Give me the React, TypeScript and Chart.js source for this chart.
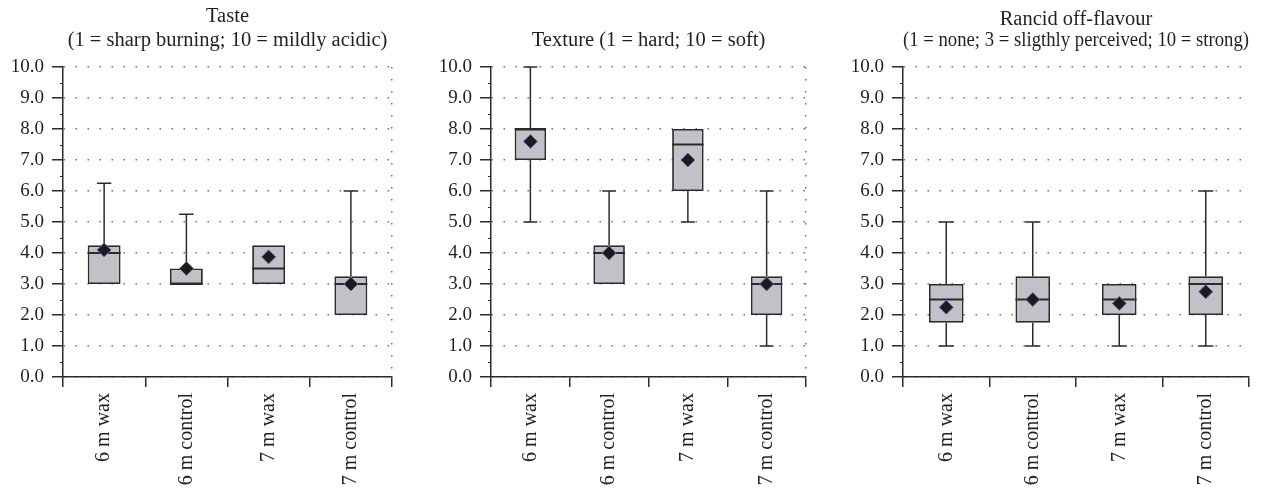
import React, { useEffect, useRef } from 'react';
import { Chart, registerables } from 'chart.js';

Chart.register(...registerables);

// ---------- data ----------
const categories = ['6 m wax', '6 m control', '7 m wax', '7 m control'];

const tasteTitle = ['Taste', '(1 = sharp burning; 10 = mildly acidic)'];
const tasteMin = [3, 3, 3, 2];
const tasteQ1 = [3, 3, 3, 2];
const tasteMedian = [4, 3, 3.5, 3];
const tasteQ3 = [4.25, 3.5, 4.25, 3.25];
const tasteMax = [6.25, 5.25, 4.25, 6];
const tasteMean = [4.1, 3.5, 3.875, 3];

const textureTitle = ['', 'Texture (1 = hard; 10 = soft)'];
const textureMin = [5, 3, 5, 1];
const textureQ1 = [7, 3, 6, 2];
const textureMedian = [8, 4, 7.5, 3];
const textureQ3 = [8, 4.25, 8, 3.25];
const textureMax = [10, 6, 8, 6];
const textureMean = [7.6, 4, 7, 3];

const rancidTitle = ['Rancid off-flavour', '(1 = none; 3 = sligthly perceived; 10 = strong)'];
const rancidMin = [1, 1, 1, 1];
const rancidQ1 = [1.75, 1.75, 2, 2];
const rancidMedian = [2.5, 2.5, 2.5, 3];
const rancidQ3 = [3, 3.25, 3, 3.25];
const rancidMax = [5, 5, 3, 6];
const rancidMean = [2.25, 2.5, 2.375, 2.75];

const yMin = 0;
const yMax = 10;
const yStep = 1;

// ---------- styling ----------
const FONT = 'Liberation Serif, Times New Roman, serif';
const TEXT = '#231f20';
const DARK = '#2b2b2b';
const BOX_FILL = '#c1c2c7';
const DOT = '#6f6f6f';

type Panel = {
  title: string[];
  min: number[];
  q1: number[];
  median: number[];
  q3: number[];
  max: number[];
  mean: number[];
  left: number;
  width: number;
  axisWidth: number;
  padRight: number;
  rightLine: boolean;
  titleLine: number;
  titleTop: number;
  titleBottom: number;
};

const panels: Panel[] = [
  { title: tasteTitle, min: tasteMin, q1: tasteQ1, median: tasteMedian, q3: tasteQ3, max: tasteMax, mean: tasteMean,
    left: 0, width: 400, axisWidth: 63, padRight: 8, rightLine: true, titleLine: 24, titleTop: 5, titleBottom: 14 },
  { title: textureTitle, min: textureMin, q1: textureQ1, median: textureMedian, q3: textureQ3, max: textureMax, mean: textureMean,
    left: 420, width: 395, axisWidth: 71, padRight: 9, rightLine: true, titleLine: 24, titleTop: 5, titleBottom: 14 },
  { title: rancidTitle, min: rancidMin, q1: rancidQ1, median: rancidMedian, q3: rancidQ3, max: rancidMax, mean: rancidMean,
    left: 830, width: 449, axisWidth: 73, padRight: 30, rightLine: false, titleLine: 21, titleTop: 9, titleBottom: 16 },
];

function makeBoxPlugin(p: Panel) {
  return {
    id: 'boxWhiskers',
    beforeDatasetsDraw(chart: any) {
      const ctx = chart.ctx;
      const y = chart.scales.y;
      const meta = chart.getDatasetMeta(0);
      ctx.save();
      ctx.strokeStyle = DARK;
      ctx.lineWidth = 1.5;
      meta.data.forEach((bar: any, i: number) => {
        const cx = bar.x;
        const half = bar.width * 0.22;
        const pMax = y.getPixelForValue(p.max[i]);
        const pMin = y.getPixelForValue(p.min[i]);
        const pQ1 = y.getPixelForValue(p.q1[i]);
        const pQ3 = y.getPixelForValue(p.q3[i]);
        ctx.beginPath();
        if (p.max[i] > p.q3[i]) {
          ctx.moveTo(cx, pQ3);
          ctx.lineTo(cx, pMax);
          ctx.moveTo(cx - half, pMax);
          ctx.lineTo(cx + half, pMax);
        }
        if (p.min[i] < p.q1[i]) {
          ctx.moveTo(cx, pQ1);
          ctx.lineTo(cx, pMin);
          ctx.moveTo(cx - half, pMin);
          ctx.lineTo(cx + half, pMin);
        }
        ctx.stroke();
      });
      ctx.restore();
    },
    afterDatasetDraw(chart: any, args: any) {
      if (args.index !== 0) return;
      const ctx = chart.ctx;
      const y = chart.scales.y;
      ctx.save();
      ctx.strokeStyle = DARK;
      ctx.lineWidth = 2;
      args.meta.data.forEach((bar: any, i: number) => {
        const py = y.getPixelForValue(p.median[i]);
        ctx.beginPath();
        ctx.moveTo(bar.x - bar.width / 2, py);
        ctx.lineTo(bar.x + bar.width / 2, py);
        ctx.stroke();
      });
      ctx.restore();
    },
    afterDraw(chart: any) {
      // minor ticks on the value axis
      const ctx = chart.ctx;
      const y = chart.scales.y;
      const left = chart.chartArea.left;
      ctx.save();
      ctx.strokeStyle = DARK;
      ctx.lineWidth = 1;
      ctx.beginPath();
      for (let v = y.min + 0.5; v < y.max; v += 1) {
        const py = Math.round(y.getPixelForValue(v)) + 0.5;
        ctx.moveTo(left - 3, py);
        ctx.lineTo(left, py);
      }
      ctx.stroke();
      ctx.restore();
    },
  };
}

function BoxChart({ p }: { p: Panel }) {
  const ref = useRef<HTMLCanvasElement | null>(null);
  useEffect(() => {
    if (!ref.current) return;
    const chart = new Chart(ref.current, {
      type: 'bar',
      data: {
        labels: categories,
        datasets: [
          {
            type: 'bar',
            data: p.q1.map((v, i) => [v, p.q3[i]]) as any,
            backgroundColor: BOX_FILL,
            borderColor: DARK,
            borderWidth: 1.8,
            borderSkipped: false,
            categoryPercentage: 1,
            barPercentage: 0.4,
            order: 2,
          } as any,
          {
            type: 'line',
            data: p.mean,
            showLine: false,
            pointStyle: 'rectRot',
            pointRadius: 7,
            pointBackgroundColor: '#1b1b1b',
            pointBorderColor: '#7a62a8',
            pointBorderWidth: 1,
            order: 1,
          } as any,
        ],
      },
      options: {
        animation: false,
        responsive: false,
        devicePixelRatio: 1,
        events: [],
        layout: { padding: { left: 0, right: p.padRight, top: 0, bottom: 0 } },
        plugins: {
          legend: { display: false },
          tooltip: { enabled: false },
          title: {
            display: true,
            text: p.title,
            fullSize: false,
            color: TEXT,
            font: { family: FONT, size: 20.5, weight: 'normal', lineHeight: p.titleLine + 'px' },
            padding: { top: p.titleTop, bottom: p.titleBottom },
          },
        },
        scales: {
          x: {
            offset: true,
            grid: {
              offset: true,
              drawOnChartArea: true,
              color: (ctx: any) => (ctx.type === 'tick' || !p.rightLine ? 'rgba(0,0,0,0)' : DOT),
              lineWidth: 1.5,
              tickColor: DARK,
              tickWidth: 1.5,
              tickLength: 10,
              tickBorderDash: [],
            },
            border: { display: true, color: DARK, width: 1.5, dash: [1.5, 10.5] },
            ticks: {
              autoSkip: false,
              maxRotation: 90,
              minRotation: 90,
              padding: 6,
              color: TEXT,
              font: { family: FONT, size: 20 },
            },
            afterFit: (scale: any) => {
              scale.height = 114;
            },
          },
          y: {
            min: yMin,
            max: yMax,
            grid: {
              color: DOT,
              lineWidth: 1.5,
              tickColor: DARK,
              tickWidth: 1.5,
              tickLength: 11,
              tickBorderDash: [],
            },
            border: { display: true, color: DARK, width: 1.5, dash: [1.5, 10.5] },
            ticks: {
              stepSize: yStep,
              padding: 8,
              color: TEXT,
              font: { family: FONT, size: 19 },
              callback: (v: any) => Number(v).toFixed(1),
            },
            afterFit: (scale: any) => {
              scale.width = p.axisWidth;
            },
          },
        },
      } as any,
      plugins: [makeBoxPlugin(p)],
    });
    return () => chart.destroy();
  }, [p]);
  return (
    <canvas
      ref={ref}
      width={p.width}
      height={491}
      style={{ position: 'absolute', left: p.left, top: 0, width: p.width, height: 491 }}
    />
  );
}

export default function App() {
  return (
    <div style={{ position: 'fixed', left: 0, top: 0, width: 1279, height: 491, background: '#ffffff', overflow: 'hidden' }}>
      {panels.map((p, i) => (
        <BoxChart key={i} p={p} />
      ))}
    </div>
  );
}
